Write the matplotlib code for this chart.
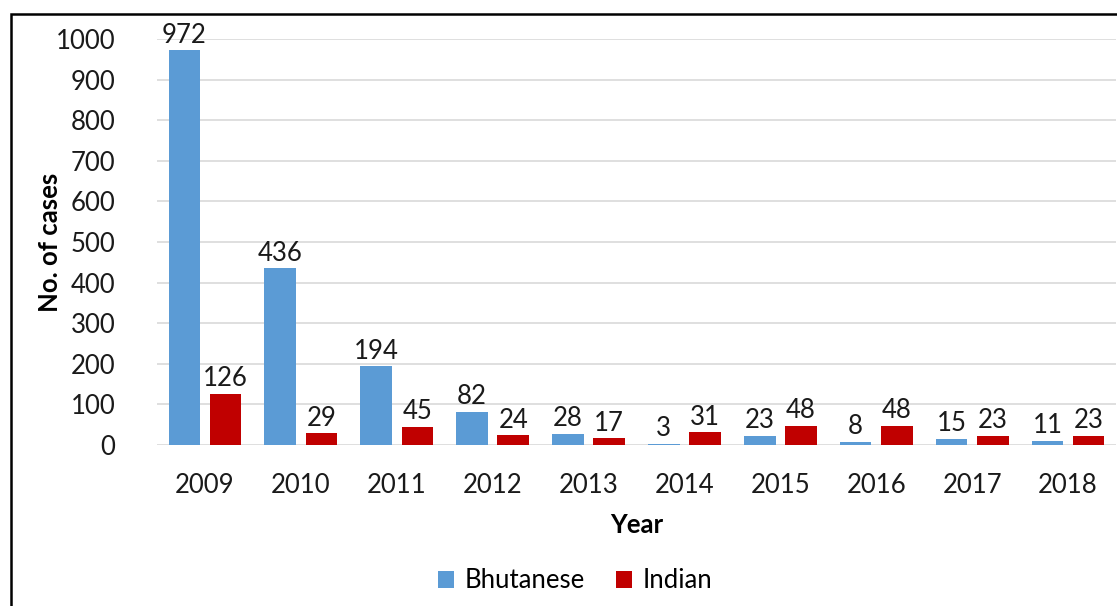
import numpy as np
import matplotlib
matplotlib.use("Agg")
import matplotlib.pyplot as plt
from matplotlib.patches import Rectangle

years = ["2009", "2010", "2011", "2012", "2013", "2014", "2015", "2016", "2017", "2018"]
bhutanese = [972, 436, 194, 82, 28, 3, 23, 8, 15, 11]
indian = [126, 29, 45, 24, 17, 31, 48, 48, 23, 23]
y_ticks = [0, 100, 200, 300, 400, 500, 600, 700, 800, 900, 1000]

plt.rcParams['font.family'] = ['Lato', 'DejaVu Sans']

W, H = 1117, 606
fig = plt.figure(figsize=(W / 100, H / 100), dpi=100)
ax = fig.add_axes([157 / W, 1 - 445 / H, (1116 - 157) / W, (445 - 39) / H])

FS = 18.5
x = np.arange(len(years))
bw = 0.33
off = 0.215
b1 = ax.bar(x - off, bhutanese, bw, color='#5b9bd5', label='Bhutanese', zorder=3)
b2 = ax.bar(x + off, indian, bw, color='#c00000', label='Indian', zorder=3)

for bars in (b1, b2):
    for r in bars:
        ax.text(r.get_x() + r.get_width() / 2, r.get_height() + 6, f"{int(r.get_height())}",
                ha='center', va='bottom', fontsize=FS, color='#1a1a1a')

ax.set_xlim(-0.5, len(years) - 0.5)
ax.set_ylim(0, 1000)
ax.set_yticks(y_ticks)
ax.set_xticks(x)
ax.set_xticklabels(years)
ax.tick_params(axis='both', length=0, labelsize=FS, colors='#1a1a1a')
ax.tick_params(axis='y', pad=30)
ax.tick_params(axis='x', pad=20)
ax.grid(axis='y', color='#d9d9d9', linewidth=1.2, zorder=0)
for s in ax.spines.values():
    s.set_visible(False)

ax.set_ylabel("No. of cases", fontsize=FS, fontweight='bold')
ax.yaxis.set_label_coords(62 / W, 0.5, transform=fig.transFigure)
ax.yaxis.label.set_y(1 - 242 / H)
ax.set_xlabel("Year", fontsize=FS, fontweight='bold', labelpad=11)

fig.legend(handles=[b1, b2], loc='center', bbox_to_anchor=(575 / W, 1 - 581 / H),
           ncol=2, frameon=False, fontsize=FS, handlelength=0.65, handleheight=0.65,
           handletextpad=0.4, columnspacing=1.2)

fig.patches.append(Rectangle((11 / W, -0.1), 1.2, 1.1 - 14 / H, transform=fig.transFigure,
                             fill=False, edgecolor='black', linewidth=1.8))

fig.savefig("out.png", dpi=100)
